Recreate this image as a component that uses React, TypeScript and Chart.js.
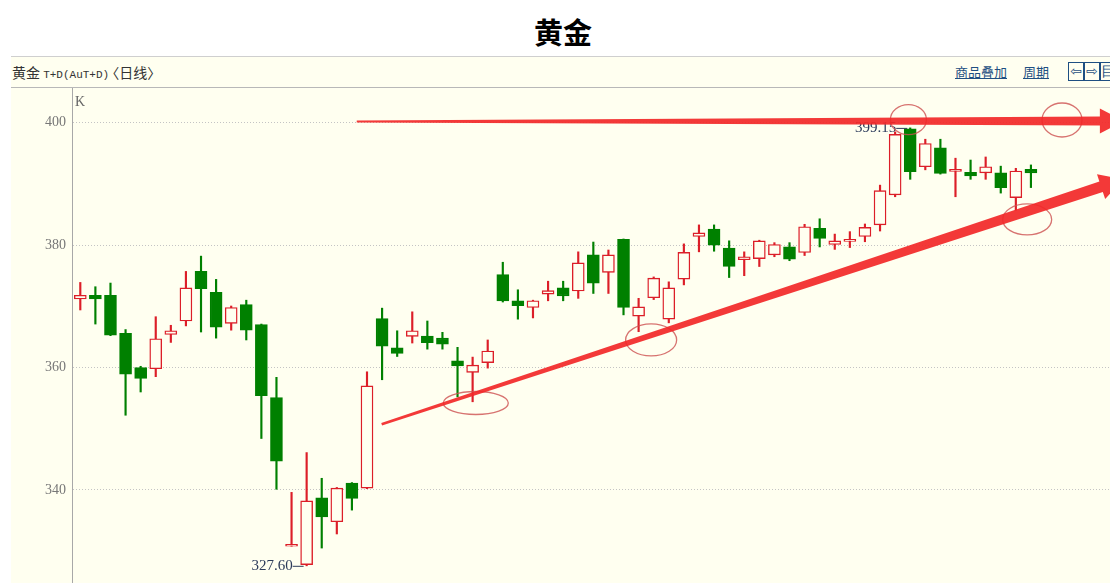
import React, { useEffect, useRef } from "react";
import { Chart, registerables } from "chart.js";

Chart.register(...registerables);

// ---- data (daily candles, AuT+D) ----
const opens = [
  371.2, 371.8, 371.8, 365.6, 360.0, 359.8, 365.4, 367.6, 375.7, 372.3,
  367.2, 370.3, 367.0, 355.1, 330.8, 327.8, 338.7, 334.8, 341.1, 340.3,
  368.0, 363.2, 365.1, 365.15, 364.8, 361.1, 359.2, 360.8, 375.2, 370.9,
  369.8, 372.0, 373.0, 372.5, 378.4, 375.55, 380.95, 368.4, 371.4, 367.9,
  374.45, 381.4, 382.6, 379.5, 377.6, 377.8, 378.4, 379.7, 378.8, 382.75,
  380.1, 380.6, 381.4, 383.3, 388.2, 399.0, 392.8, 395.9, 392.05, 391.9,
  391.8, 391.8, 387.75, 392.4,
];
const highs = [
  373.9, 373.2, 373.8, 366.2, 360.2, 368.3, 366.9, 375.7, 378.2, 374.4,
  370.05, 371.0, 367.1, 358.4, 339.6, 346.1, 341.9, 340.4, 341.2, 359.3,
  369.7, 366.0, 369.1, 367.6, 365.75, 363.3, 361.7, 364.5, 377.2, 372.7,
  371.0, 374.1, 374.1, 378.9, 380.5, 379.2, 381.0, 371.3, 374.8, 374.0,
  380.2, 383.3, 383.3, 380.7, 378.9, 380.8, 380.4, 380.4, 383.4, 384.3,
  381.8, 382.2, 383.45, 389.8, 398.5, 399.15, 397.3, 397.3, 394.2, 393.9,
  394.4, 392.9, 392.55, 393.1,
];
const lows = [
  369.4, 367.1, 365.2, 352.2, 356.0, 358.5, 364.1, 366.8, 365.8, 364.8,
  366.1, 364.5, 348.4, 340.1, 330.8, 327.6, 330.5, 332.8, 336.7, 340.2,
  358.0, 361.8, 364.0, 363.0, 363.0, 355.2, 354.4, 359.9, 370.7, 367.9,
  368.1, 370.9, 370.9, 371.3, 372.1, 372.1, 368.6, 365.85, 371.1, 367.3,
  373.5, 378.9, 379.0, 374.7, 375.0, 376.5, 378.1, 377.45, 378.3, 379.7,
  379.3, 379.6, 380.55, 382.3, 387.9, 390.75, 392.3, 391.6, 387.9, 390.75,
  390.75, 388.5, 385.7, 389.4,
];
const closes = [
  371.8, 371.2, 365.3, 358.9, 358.2, 364.7, 366.0, 373.0, 372.9, 366.6,
  369.8, 366.1, 355.4, 344.7, 330.9, 338.2, 335.6, 340.3, 338.6, 357.0,
  363.5, 362.3, 366.0, 364.05, 363.8, 360.25, 360.4, 362.7, 370.9, 370.1,
  370.9, 372.55, 371.7, 377.1, 373.8, 378.4, 369.8, 369.9, 374.6, 373.0,
  378.8, 382.0, 380.0, 376.5, 378.1, 380.7, 380.1, 377.7, 383.0, 381.1,
  380.7, 380.7, 382.9, 388.9, 398.1, 392.0, 396.6, 391.7, 392.4, 391.3,
  392.8, 389.4, 392.1, 391.8,
];
const dayLabels = opens.map((_, i) => String(i + 1));
const yTicks = [340, 360, 380, 400];

// hand-drawn annotations, in data coordinates (day index, price)
const arrowLines = [
  { from: [18.32, 400.2], to: [69.16, 400.28] },
  { from: [19.97, 350.72], to: [69.16, 390.78] },
];
const circledPoints = [
  { x: 26.21, y: 354.2 },
  { x: 37.83, y: 364.5 },
  { x: 54.88, y: 400.5 },
  { x: 65.06, y: 400.44 },
  { x: 62.75, y: 384.2 },
];

// ---- styling ----
const UP = "#dc1e28";
const DOWN = "#008000";
const BG = "#fffff0";
const ellipseRadii = [
  [32.5, 11.5],
  [25.5, 16],
  [18, 15],
  [20, 17],
  [24.5, 15.5],
];
const arrowShape = [
  { w0: 2, w1: 9, headLen: 24, headW: 25 },
  { w0: 2.5, w1: 11, headLen: 24, headW: 26 },
];

function drawArrow(ctx: CanvasRenderingContext2D, x0: number, y0: number, x1: number, y1: number, s: any) {
  const dx = x1 - x0, dy = y1 - y0;
  const len = Math.hypot(dx, dy);
  const ux = dx / len, uy = dy / len;
  const nx = -uy, ny = ux;
  const bx = x1 - ux * s.headLen, by = y1 - uy * s.headLen;
  ctx.beginPath();
  ctx.moveTo(x0 + nx * s.w0 / 2, y0 + ny * s.w0 / 2);
  ctx.lineTo(bx + nx * s.w1 / 2, by + ny * s.w1 / 2);
  ctx.lineTo(bx + nx * s.headW / 2, by + ny * s.headW / 2);
  ctx.lineTo(x1, y1);
  ctx.lineTo(bx - nx * s.headW / 2, by - ny * s.headW / 2);
  ctx.lineTo(bx - nx * s.w1 / 2, by - ny * s.w1 / 2);
  ctx.lineTo(x0 - nx * s.w0 / 2, y0 - ny * s.w0 / 2);
  ctx.closePath();
  ctx.fill();
}

const overlayPlugin = {
  id: "overlay",
  afterDatasetsDraw(chart: any) {
    const { ctx, scales, chartArea } = chart;
    const xs = scales.x, ys = scales.y;
    ctx.save();
    // "K" label
    ctx.fillStyle = "#666";
    ctx.font = '14px "Liberation Serif"';
    ctx.textAlign = "left";
    ctx.textBaseline = "middle";
    ctx.fillText("K", chartArea.left + 3, 14);

    // min / max markers
    let minI = 0, maxI = 0;
    lows.forEach((v, i) => { if (v < lows[minI]) minI = i; });
    highs.forEach((v, i) => { if (v > highs[maxI]) maxI = i; });
    ctx.fillStyle = "#2c3b5a";
    ctx.strokeStyle = "#2c3b5a";
    ctx.lineWidth = 1;
    ctx.font = '15px "Liberation Serif"';
    ctx.textAlign = "right";
    const mk = (i: number, v: number) => {
      const px = xs.getPixelForValue(i);
      const py = ys.getPixelForValue(v);
      ctx.beginPath();
      ctx.moveTo(px - 14, py + 0.5);
      ctx.lineTo(px - 3, py + 0.5);
      ctx.stroke();
      ctx.fillText(v.toFixed(2), px - 14, py);
    };
    mk(minI, lows[minI]);
    mk(maxI, highs[maxI]);

    // ellipses
    ctx.strokeStyle = "rgba(205,80,80,0.8)";
    ctx.lineWidth = 1.3;
    circledPoints.forEach((p, i) => {
      const cx = xs.getPixelForValue(p.x);
      const cy = ys.getPixelForValue(p.y);
      ctx.beginPath();
      ctx.ellipse(cx, cy, ellipseRadii[i][0], ellipseRadii[i][1], 0, 0, Math.PI * 2);
      ctx.stroke();
    });

    // arrows
    ctx.fillStyle = "rgba(242,40,40,0.92)";
    arrowLines.forEach((a, i) => {
      drawArrow(
        ctx,
        xs.getPixelForValue(a.from[0]), ys.getPixelForValue(a.from[1]),
        xs.getPixelForValue(a.to[0]), ys.getPixelForValue(a.to[1]),
        arrowShape[i]
      );
    });
    ctx.restore();
  },
};

export default function App() {
  const ref = useRef<HTMLCanvasElement | null>(null);

  useEffect(() => {
    document.body.style.margin = "0";
    if (!ref.current) return;
    const up = (i: number) => closes[i] >= opens[i];
    const chart = new Chart(ref.current, {
      type: "bar",
      data: {
        labels: dayLabels,
        datasets: [
          {
            label: "wick",
            data: dayLabels.map((_, i) => ({ x: i, y: [lows[i], highs[i]] })) as any,
            backgroundColor: dayLabels.map((_, i) => (up(i) ? UP : DOWN)),
            borderWidth: 0,
            barThickness: 1.5,
            grouped: false,
            order: 2,
          } as any,
          {
            label: "body",
            data: dayLabels.map((_, i) => ({ x: i, y: [opens[i], closes[i]] })) as any,
            backgroundColor: dayLabels.map((_, i) => (up(i) ? BG : DOWN)),
            borderColor: dayLabels.map((_, i) => (up(i) ? UP : DOWN)),
            borderWidth: 1.4,
            borderSkipped: false,
            barThickness: 12,
            minBarLength: 2,
            grouped: false,
            order: 1,
          } as any,
        ],
      },
      options: {
        animation: false,
        responsive: false,
        maintainAspectRatio: false,
        layout: { padding: 0, autoPadding: false },
        plugins: {
          legend: { display: false },
          tooltip: { enabled: false },
          title: { display: false },
        },
        scales: {
          x: {
            type: "linear",
            display: false,
            min: -0.55,
            max: 68.24,
            offset: false,
          },
          y: {
            position: "left",
            min: 324.79,
            max: 405.67,
            afterFit: (s: any) => {
              s.width = 61;
              s.paddingTop = 0;
              s.paddingBottom = 0;
            },
            afterBuildTicks: (s: any) => { s.ticks = yTicks.map((v) => ({ value: v })); },
            ticks: {
              color: "#777",
              padding: 6,
              font: { family: '"Liberation Serif"', size: 14 },
              callback: (v: any) => String(v),
            },
            grid: { color: "#c4c4c4", lineWidth: 1, drawTicks: false },
            border: { display: true, color: "#a8a8a8", width: 1, dash: [1, 2] },
          },
        },
      } as any,
      plugins: [overlayPlugin],
    });
    return () => chart.destroy();
  }, []);

  const linkStyle: React.CSSProperties = {
    position: "absolute",
    top: 6,
    color: "#1e4f82",
    textDecoration: "underline",
    fontSize: 13,
    fontFamily: '"Noto Sans CJK SC"',
    lineHeight: "18px",
  };
  const boxStyle = (left: number): React.CSSProperties => ({
    position: "absolute",
    left,
    top: 5,
    width: 14,
    height: 17,
    border: "1px solid #1e4f82",
    color: "#1e4f82",
    fontSize: 14,
    lineHeight: "17px",
    textAlign: "center",
    fontFamily: '"DejaVu Sans"',
    overflow: "hidden",
  });

  return (
    <div style={{ position: "relative", width: 1110, height: 583, background: "#fff", overflow: "hidden" }}>
      <div
        style={{
          position: "absolute",
          left: 563,
          top: 15,
          transform: "translateX(-50%)",
          fontFamily: '"Noto Sans CJK SC"',
          fontWeight: 700,
          fontSize: 29,
          lineHeight: "32px",
          color: "#000",
          whiteSpace: "nowrap",
        }}
      >
        黄金
      </div>
      <div
        style={{
          position: "absolute",
          left: 11,
          top: 56,
          width: 1099,
          height: 527,
          background: BG,
          borderTop: "1px solid #cfcfcf",
        }}
      >
        <div style={{ position: "relative", height: 30, borderBottom: "1px solid #b8b8b8" }}>
          <div
            style={{
              position: "absolute",
              left: 1,
              top: 6,
              fontSize: 14,
              lineHeight: "18px",
              color: "#333",
              fontFamily: '"Noto Sans CJK SC"',
              whiteSpace: "nowrap",
            }}
          >
            黄金 <span style={{ fontFamily: '"Liberation Mono"', fontSize: 11 }}>T+D(AuT+D)</span>
            <span style={{ marginLeft: -4 }}>〈日线〉</span>
          </div>
          <span style={{ ...linkStyle, left: 944 }}>商品叠加</span>
          <span style={{ ...linkStyle, left: 1012 }}>周期</span>
          <span style={boxStyle(1057)}>⇦</span>
          <span style={boxStyle(1073)}>⇨</span>
          <span style={boxStyle(1089)}>目</span>
        </div>
        <canvas ref={ref} width={1099} height={495} style={{ display: "block", width: 1099, height: 495 }} />
      </div>
    </div>
  );
}
